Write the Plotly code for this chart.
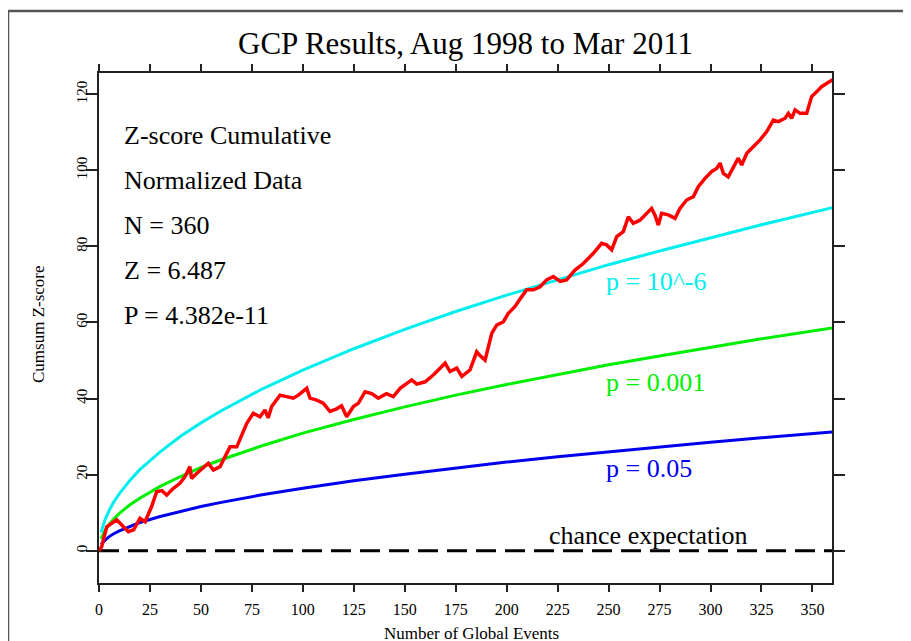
import plotly.graph_objects as go

# ---------------- data ----------------
event_n = [
    0, 1.3, 3.8, 8.7, 12, 14.4, 17, 20.1, 22.6, 25.8,
    28.3, 30.8, 33.2, 36.5, 39.7, 42.2, 44.6, 45.4, 47.9, 51.2,
    53.6, 56.1, 59.4, 61.8, 64.3, 67.6, 70, 72.5, 75.7, 79,
    81.4, 83, 84.7, 88.8, 92, 95.3, 97.8, 101.9, 103.5, 106.8,
    110, 113.3, 116.6, 119, 121.5, 124.8, 127.3, 130.5, 133.8, 137,
    141, 144.4, 147.7, 153.4, 155.9, 160, 164, 169.8, 172.2, 175.5,
    178, 182, 185.3, 186.9, 189.4, 192.7, 195.1, 198.4, 200.8, 204.1,
    207.4, 209.8, 213.1, 216.4, 219.6, 222.9, 226.2, 229.4, 233.5, 237.6,
    242.5, 246.6, 249, 251.5, 254, 257.2, 259.7, 262.1, 265.4, 268.7,
    271.1, 272.7, 274.4, 276, 279.3, 282.6, 285, 288.3, 291.6, 294,
    297.3, 300.6, 303, 304.7, 306.3, 308.7, 311.2, 313.6, 315.3, 317.8,
    321.1, 324.3, 327.6, 330.8, 333.3, 336.6, 338.2, 339.8, 341.5, 343.9,
    347.2, 349.6, 352.1, 354.5, 358.6, 360,
]
cum_z = [
    0, 1.0, 6.3, 8.1, 6.3, 5.0, 5.5, 8.5, 7.6, 11.6,
    15.5, 15.8, 14.6, 16.4, 17.7, 19.5, 22.1, 19.0, 20.3, 21.7,
    23.0, 21.2, 22.1, 24.7, 27.3, 27.3, 30.4, 33.5, 36.1, 35.2,
    37.0, 34.9, 37.9, 40.9, 40.5, 40.1, 40.9, 42.7, 40.1, 39.6,
    38.8, 36.6, 37.3, 38.1, 35.2, 37.9, 38.8, 41.8, 41.3, 40.1,
    41.3, 40.5, 42.7, 44.9, 43.8, 44.4, 46.2, 49.3, 47.1, 48.0,
    45.8, 47.5, 52.3, 51.3, 50.1, 57.2, 59.3, 60.2, 62.4, 64.2,
    66.8, 68.6, 68.6, 69.4, 71.2, 72.1, 70.8, 71.2, 73.8, 75.5,
    78.2, 80.8, 80.4, 79.1, 82.6, 83.9, 87.8, 86.1, 86.9, 88.7,
    90.0, 88.3, 85.6, 88.7, 88.3, 87.4, 90.0, 92.2, 93.1, 95.7,
    97.9, 99.7, 100.5, 101.9, 99.2, 98.3, 100.9, 103.2, 101.4, 104.5,
    106.3, 108.0, 110.2, 113.2, 112.8, 113.7, 115.0, 113.7, 115.9, 115.0,
    115.0, 119.4, 120.7, 122.0, 123.4, 123.8,
]

env_n = [1, 2, 3, 5, 7, 10, 15, 20, 30, 40, 50, 60, 80, 100, 125, 150,
         175, 200, 225, 250, 275, 300, 325, 360]
env_p05 = [1.6, 2.3, 2.8, 3.7, 4.4, 5.2, 6.4, 7.4, 9.0, 10.4, 11.6, 12.7,
           14.7, 16.4, 18.4, 20.1, 21.8, 23.3, 24.7, 26.0, 27.3, 28.5, 29.7, 31.2]
env_p001 = [3.1, 4.4, 5.4, 6.9, 8.2, 9.8, 12.0, 13.8, 16.9, 19.5, 21.9, 23.9,
            27.6, 30.9, 34.5, 37.8, 40.9, 43.7, 46.4, 48.9, 51.2, 53.5, 55.7, 58.6]
env_p1e6 = [4.8, 6.7, 8.2, 10.6, 12.6, 15.0, 18.4, 21.3, 26.0, 30.1, 33.6, 36.8,
            42.5, 47.5, 53.1, 58.2, 62.9, 67.2, 71.3, 75.2, 78.8, 82.3, 85.7, 90.2]

chance_n = [0, 360]
chance_z = [0, 0]

x_ticks = [0, 25, 50, 75, 100, 125, 150, 175, 200, 225, 250, 275, 300, 325, 350]
y_ticks = [0, 20, 40, 60, 80, 100, 120]

stats_lines = ["Z-score Cumulative", "Normalized Data", "N = 360",
               "Z = 6.487", "P = 4.382e-11"]

# ---------------- layout geometry ----------------
# the page body has an 8px margin, so the figure is drawn 8px smaller and
# screen coordinates (below) are measured on the full window.
OFF = 8
W, H = 911 - OFF, 641 - OFF
L, R, T, B = 99, 832, 73, 583          # plot area, screen pixels
FONT = "Liberation Serif, Times New Roman, serif"


def px(xp):
    return (xp - L) / (R - L)


def py(yp):
    return (B - yp) / (B - T)


fig = go.Figure()

fig.add_trace(go.Scatter(x=chance_n, y=chance_z, mode="lines",
                         line=dict(color="black", width=3, dash="20px,9px"),
                         hoverinfo="skip"))
fig.add_trace(go.Scatter(x=env_n, y=env_p05, mode="lines",
                         line=dict(color="#0000ee", width=3), hoverinfo="skip"))
fig.add_trace(go.Scatter(x=env_n, y=env_p001, mode="lines",
                         line=dict(color="#00ee00", width=3), hoverinfo="skip"))
fig.add_trace(go.Scatter(x=env_n, y=env_p1e6, mode="lines",
                         line=dict(color="#00eeee", width=3), hoverinfo="skip"))
fig.add_trace(go.Scatter(x=event_n, y=cum_z, mode="lines",
                         line=dict(color="#ff0000", width=3.5), hoverinfo="skip"))

annotations = []
# title
annotations.append(dict(text="GCP Results, Aug 1998 to Mar 2011", x=px(465), y=py(44),
                        xref="paper", yref="paper", xanchor="center", yanchor="middle",
                        showarrow=False, font=dict(family=FONT, size=31, color="black")))
# stats block
for i, s in enumerate(stats_lines):
    annotations.append(dict(text=s, x=px(122), y=py(135 + i * 45),
                            xref="paper", yref="paper", xanchor="left", yanchor="middle",
                            showarrow=False, font=dict(family=FONT, size=26, color="black")))
# curve labels
for txt, col, yc in [("p = 10^-6", "#00eeee", 281), ("p = 0.001", "#00ee00", 382),
                     ("p = 0.05", "#0000ee", 468)]:
    annotations.append(dict(text=txt, x=px(604), y=py(yc), xref="paper", yref="paper",
                            xanchor="left", yanchor="middle", showarrow=False,
                            font=dict(family=FONT, size=26, color=col)))
annotations.append(dict(text="chance expectation", x=px(547), y=py(535),
                        xref="paper", yref="paper", xanchor="left", yanchor="middle",
                        showarrow=False, font=dict(family=FONT, size=26, color="black")))
# axis titles
annotations.append(dict(text="Cumsum Z-score", x=px(38), y=py(324), xref="paper",
                        yref="paper", xanchor="center", yanchor="middle", textangle=-90,
                        showarrow=False, font=dict(family=FONT, size=17, color="black")))
annotations.append(dict(text="Number of Global Events", x=px(471), y=py(633),
                        xref="paper", yref="paper", xanchor="center", yanchor="middle",
                        showarrow=False, font=dict(family=FONT, size=17, color="black")))

frame_col = "#555555"
shapes = [
    dict(type="line", xref="paper", yref="paper", x0=px(8), y0=py(11), x1=px(8), y1=py(700),
         line=dict(color=frame_col, width=2.5)),
    dict(type="line", xref="paper", yref="paper", x0=px(8), y0=py(11), x1=px(960), y1=py(11),
         line=dict(color=frame_col, width=2.5)),
]

axis_common = dict(showgrid=False, zeroline=False, showline=True, linecolor="#222222",
                   linewidth=2, mirror="ticks", ticks="outside", tickwidth=2,
                   tickcolor="#222222")

fig.update_layout(
    width=W, height=H,
    margin=dict(l=L - OFF, r=W - (R - OFF), t=T - OFF, b=H - (B - OFF), pad=0),
    paper_bgcolor="white", plot_bgcolor="white",
    showlegend=False,
    annotations=annotations,
    shapes=shapes,
    xaxis=dict(range=[0, 359.6], tickvals=x_ticks, ticktext=[str(v) for v in x_ticks],
               tickfont=dict(family=FONT, size=16, color="black"), ticklabelstandoff=4,
               ticklen=7, **axis_common),
    yaxis=dict(range=[-8.5, 125.6], tickvals=y_ticks, ticktext=[str(v) for v in y_ticks],
               tickangle=-90, tickfont=dict(family=FONT, size=15, color="black"),
               ticklabelstandoff=-7, ticklen=11, **axis_common),
)

fig.write_html("out.html")
